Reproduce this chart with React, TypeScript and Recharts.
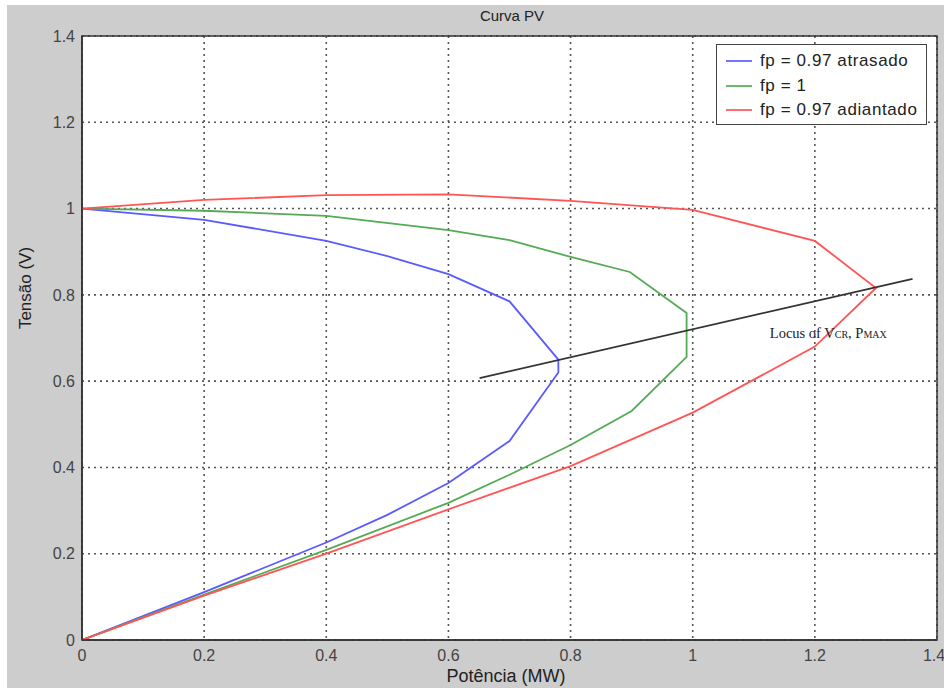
import React from 'react';
import { LineChart, Line, XAxis, YAxis, CartesianGrid, Legend, ReferenceArea, ReferenceDot } from 'recharts';

const xTicks = [0, 0.2, 0.4, 0.6, 0.8, 1, 1.2, 1.4];
const yTicks = [0, 0.2, 0.4, 0.6, 0.8, 1, 1.2, 1.4];

const laggingP = [0, 0.2, 0.4, 0.5, 0.6, 0.7, 0.78, 0.78, 0.7, 0.6, 0.5, 0.4, 0.2, 0];
const laggingV = [1.0, 0.974, 0.925, 0.89, 0.848, 0.785, 0.65, 0.62, 0.461, 0.364, 0.29, 0.226, 0.111, 0];

const unityP = [0, 0.2, 0.4, 0.6, 0.7, 0.8, 0.897, 0.99, 0.99, 0.9, 0.8, 0.7, 0.6, 0.4, 0.2, 0];
const unityV = [1.0, 0.995, 0.983, 0.95, 0.927, 0.888, 0.853, 0.758, 0.656, 0.531, 0.452, 0.383, 0.318, 0.209, 0.105, 0];

const leadingP = [0, 0.2, 0.4, 0.6, 0.8, 1.0, 1.2, 1.3, 1.2, 1.0, 0.8, 0.6, 0.4, 0.2, 0];
const leadingV = [1.0, 1.02, 1.031, 1.033, 1.018, 0.997, 0.925, 0.816, 0.68, 0.527, 0.403, 0.303, 0.2, 0.103, 0];

const locusP = [0.651, 1.36];
const locusV = [0.607, 0.837];
const locusLabelAt = { x: 1.222, y: 0.7 };

const seriesNames = ['fp = 0.97 atrasado', 'fp = 1', 'fp = 0.97 adiantado'];
const seriesColors = ['#5a5aff', '#55aa55', '#ff5555'];

const zip = (xs: number[], ys: number[]) => xs.map((x, i) => ({ x, y: ys[i] }));

const lagging = zip(laggingP, laggingV);
const unity = zip(unityP, unityV);
const leading = zip(leadingP, leadingV);
const locus = zip(locusP, locusV);

const fmt = (v: number) => String(Math.round(v * 10) / 10);

const LegendBox = () => (
  <div
    style={{
      width: 211,
      height: 81,
      background: '#fff',
      border: '1px solid #444',
      boxSizing: 'border-box',
      fontFamily: 'Arial, "Liberation Sans", sans-serif',
      fontSize: 17,
      color: '#222',
      paddingTop: 4,
    }}
  >
    {seriesNames.map((n, i) => (
      <div key={n} style={{ display: 'flex', alignItems: 'center', height: 24.5 }}>
        <div style={{ marginLeft: 9, width: 26, height: 2, background: seriesColors[i], opacity: 0.85 }} />
        <span style={{ marginLeft: 8, letterSpacing: 0.6, whiteSpace: 'nowrap' }}>{n}</span>
      </div>
    ))}
  </div>
);

const LocusLabel = (props: any) => (
  <text
    x={props.cx}
    y={props.cy}
    textAnchor="middle"
    fontFamily='"Liberation Serif", "DejaVu Serif", serif'
    fontSize={14.5}
    fill="#222"
  >
    Locus of V
    <tspan fontSize={10}>CR</tspan>
    <tspan>, P</tspan>
    <tspan fontSize={10}>MAX</tspan>
  </text>
);

export default function App() {
  return (
    <div style={{ position: 'absolute', left: 0, top: 0, width: 944, height: 691, background: '#fff' }}>
      <div style={{ position: 'absolute', left: 7, top: 5, width: 937, height: 683, background: '#cdcdcd' }} />
      <div style={{ position: 'absolute', left: 0, top: 0 }}>
        <LineChart
          width={944}
          height={691}
          margin={{ top: 36, right: 7, bottom: 21, left: 22 }}
        >
          <CartesianGrid stroke="#555" strokeDasharray="2 4" strokeWidth={1.6} fill="#ffffff" fillOpacity={1} />
          <XAxis
            type="number"
            dataKey="x"
            domain={[0, 1.4]}
            ticks={xTicks}
            tickFormatter={fmt}
            allowDataOverflow
            height={30}
            tickSize={0}
            tickMargin={10}
            axisLine={{ stroke: '#333', strokeWidth: 1.5 }}
            tick={{ fill: '#444', fontSize: 16, fontFamily: 'Arial, "Liberation Sans", sans-serif' }}
          />
          <YAxis
            type="number"
            dataKey="y"
            domain={[0, 1.4]}
            ticks={yTicks}
            tickFormatter={fmt}
            allowDataOverflow
            width={60}
            tickSize={0}
            tickMargin={7}
            axisLine={{ stroke: '#333', strokeWidth: 1.5 }}
            tick={{ fill: '#444', fontSize: 16, fontFamily: 'Arial, "Liberation Sans", sans-serif' }}
          />
          <ReferenceArea x1={0} x2={1.4} y1={0} y2={1.4} fill="none" stroke="#333" strokeWidth={1.5} />
          <Line data={lagging} dataKey="y" name={seriesNames[0]} type="linear" stroke={seriesColors[0]} strokeWidth={1.8} dot={false} isAnimationActive={false} />
          <Line data={unity} dataKey="y" name={seriesNames[1]} type="linear" stroke={seriesColors[1]} strokeWidth={1.8} dot={false} isAnimationActive={false} />
          <Line data={leading} dataKey="y" name={seriesNames[2]} type="linear" stroke={seriesColors[2]} strokeWidth={1.8} dot={false} isAnimationActive={false} />
          <Line data={locus} dataKey="y" name="locus" legendType="none" type="linear" stroke="#333" strokeWidth={1.8} dot={false} isAnimationActive={false} />
          <ReferenceDot x={locusLabelAt.x} y={locusLabelAt.y} r={0} shape={LocusLabel} />
          <Legend
            layout="vertical"
            align="center"
            verticalAlign="middle"
            content={() => <LegendBox />}
            wrapperStyle={{ position: 'absolute', left: 716, top: 44, width: 211, height: 81 }}
          />
          <text x={512} y={21} textAnchor="middle" fontSize={15} fontFamily='Arial, "Liberation Sans", sans-serif' fill="#222">
            Curva PV
          </text>
          <text x={506} y={682} textAnchor="middle" fontSize={18} fontFamily='Arial, "Liberation Sans", sans-serif' fill="#222">
            Potência (MW)
          </text>
          <text
            x={31}
            y={288}
            textAnchor="middle"
            fontSize={17}
            fontFamily='Arial, "Liberation Sans", sans-serif'
            fill="#222"
            transform="rotate(-90 31 288)"
          >
            Tensão (V)
          </text>
        </LineChart>
      </div>
    </div>
  );
}
